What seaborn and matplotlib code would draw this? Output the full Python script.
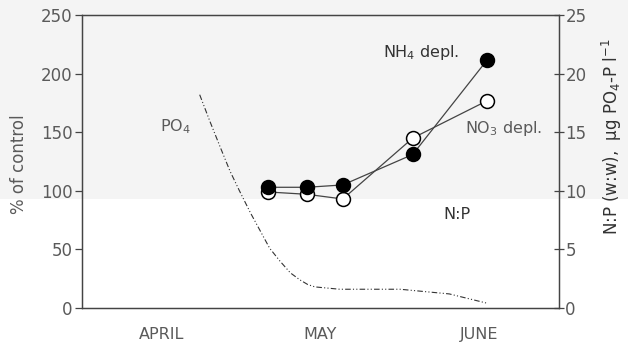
import matplotlib
matplotlib.use("Agg")
import matplotlib.pyplot as plt
import seaborn as sns
import pandas as pd
from matplotlib.patches import Rectangle

# ---- data (x in months since 1 April) ----
months = ["APRIL", "MAY", "JUNE"]
obs_x = [1.17, 1.415, 1.64, 2.08, 2.55]
nh4_depl = [103, 103, 105, 131, 212]      # filled circles, % of control
no3_depl = [99, 97, 93, 145, 177]         # open circles, % of control
po4_x = [0.74, 0.805, 0.87, 0.93, 0.99, 1.06, 1.12, 1.18, 1.245, 1.31,
         1.37, 1.42, 1.465, 1.62, 2.0, 2.31, 2.55]
po4_val = [18.2, 15.9, 13.7, 11.7, 10.0, 8.1, 6.6, 5.1, 4.0, 3.0,
           2.4, 2.0, 1.8, 1.6, 1.6, 1.2, 0.4]  # ug PO4-P/l
left_ticks = [0, 50, 100, 150, 200, 250]
right_ticks = [0, 5, 10, 15, 20, 25]

sns.set_style("white")
plt.rcParams['font.family'] = ['DejaVu Sans']
txt = '#5a5a5a'
spc = '#444444'

fig = plt.figure(figsize=(6.28, 3.49), dpi=100)
fig.patches.append(Rectangle((0, 0.43), 1, 0.57, transform=fig.transFigure,
                             facecolor='#f4f4f4', edgecolor='none', zorder=-10))
ax = fig.add_axes([0.1306, 0.1175, 0.7596, 0.8395])
ax.set_facecolor('none')
ax2 = ax.twinx()
ax2.set_facecolor('none')

df = pd.DataFrame({"x": obs_x, "nh4": nh4_depl, "no3": no3_depl})
sns.lineplot(data=df, x="x", y="no3", ax=ax, color=spc, lw=0.9, marker='o',
             markersize=10, markerfacecolor='white', markeredgecolor='black',
             markeredgewidth=1.1, zorder=3)
sns.lineplot(data=df, x="x", y="nh4", ax=ax, color=spc, lw=0.9, marker='o',
             markersize=10, markerfacecolor='black', markeredgecolor='black',
             markeredgewidth=1.1, zorder=4)

pdf = pd.DataFrame({"x": po4_x, "po4": po4_val})
sns.lineplot(data=pdf, x="x", y="po4", ax=ax2, color='#333333', lw=0.8,
             linestyle=(0, (5, 2, 1, 2, 1, 2)))

ax.set_xlim(0, 3)
ax.set_ylim(0, 250)
ax2.set_ylim(0, 25)
ax.set_yticks(left_ticks)
ax2.set_yticks(right_ticks)
ax.set_xticks([1, 2])
ax.set_xticklabels([])
ax.set_xticks([0.5, 1.5, 2.5], minor=True)
ax.set_xticklabels(months, minor=True)
ax.tick_params(axis='x', which='minor', length=0, pad=14, labelsize=11.5, labelcolor=txt)
ax.tick_params(axis='x', which='major', direction='inout', length=7, width=0.9, color=spc)
ax.tick_params(axis='y', direction='out', length=5, width=0.9, color=spc,
               labelsize=12, labelcolor=txt, pad=2, left=True)
ax2.tick_params(axis='y', direction='inout', length=7, width=0.9, color=spc,
                labelsize=12, labelcolor=txt, pad=1, right=True)
ax.set_xlabel("")
ax.set_ylabel("")
ax2.set_ylabel("")
for a in (ax, ax2):
    for s in a.spines.values():
        s.set_color(spc)
        s.set_linewidth(0.9)
        s.set_visible(True)

fig.text(0.03, 0.53, "% of control", rotation=90, ha='center', va='center',
         fontsize=12, color=txt)
fig.text(0.975, 0.61, "N:P (w:w),  \u00b5g PO$_4$-P l$^{-1}$", rotation=90,
         ha='center', va='center', fontsize=12, color='#333333')

ax.text(0.49, 155, "PO$_4$", fontsize=11.5, color=txt, va='center')
ax.text(1.893, 218, "NH$_4$ depl.", fontsize=11.5, color='#333333', va='center')
ax.text(2.41, 153, "NO$_3$ depl.", fontsize=11.5, color=txt, va='center')
ax.text(2.27, 80, "N:P", fontsize=11.5, color='#333333', va='center')

fig.savefig("out.png", dpi=100)
